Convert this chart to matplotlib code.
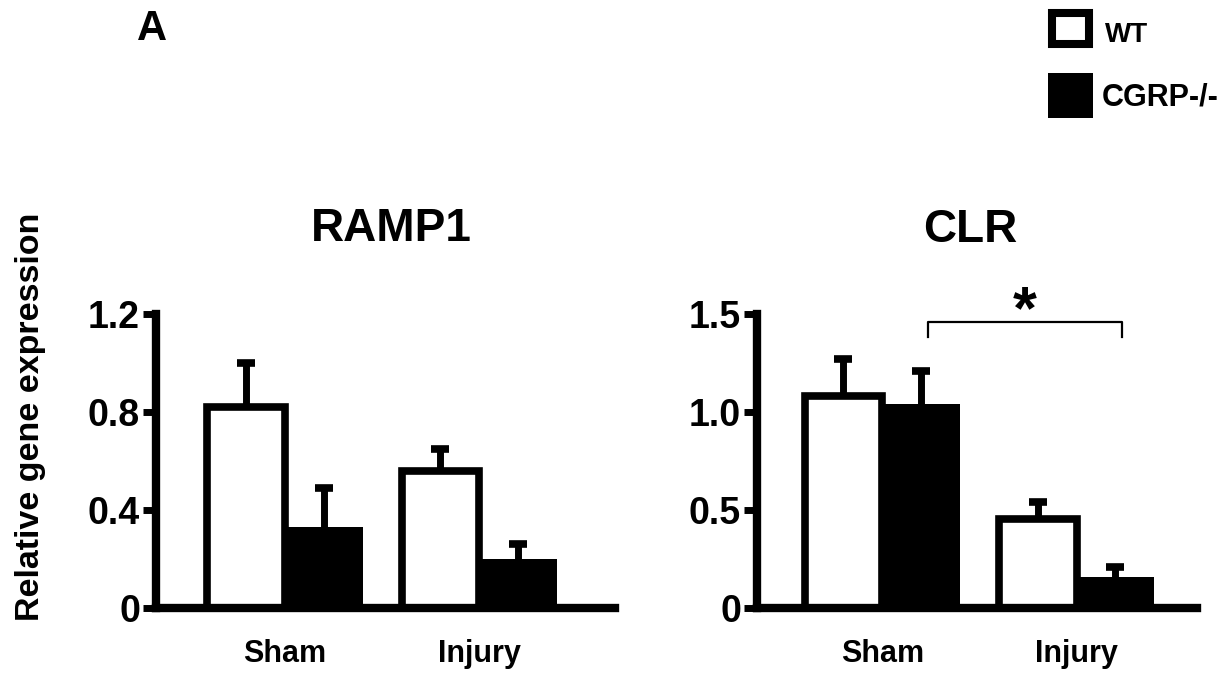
import numpy as np
import matplotlib
matplotlib.use("Agg")
import matplotlib.pyplot as plt
from matplotlib.patches import Rectangle

plt.rcParams["font.family"] = ["Liberation Sans", "DejaVu Sans"]
plt.rcParams["font.weight"] = "bold"

# data
groups = ["Sham", "Injury"]
series = ["WT", "CGRP-/-"]

ramp1_wt = [0.82, 0.56]
ramp1_wt_err = [0.18, 0.09]
ramp1_ko = [0.33, 0.20]
ramp1_ko_err = [0.16, 0.06]
ramp1_ticks = [0, 0.4, 0.8, 1.2]
ramp1_ticklabels = ["0", "0.4", "0.8", "1.2"]

clr_wt = [1.08, 0.455]
clr_wt_err = [0.19, 0.085]
clr_ko = [1.04, 0.16]
clr_ko_err = [0.17, 0.05]
clr_ticks = [0, 0.5, 1.0, 1.5]
clr_ticklabels = ["0", "0.5", "1.0", "1.5"]

W, H = 1230, 680


def fx(px):
    return px / W


def fy(py):
    return 1 - py / H


fig = plt.figure(figsize=(12.3, 6.8), dpi=100)

BAR_W = 0.4
pos = np.arange(len(groups))


def upper_errorbar(ax, x, vals, err):
    # only the upper half of the error bar, like GraphPad
    eb = ax.errorbar(x, vals, yerr=[np.zeros(len(vals)), err], fmt="none", ecolor="black",
                     elinewidth=5, capsize=6.5, capthick=5.5, zorder=1)
    for cap in eb[1]:
        if np.allclose(cap.get_ydata(), vals):
            cap.set_visible(False)


def draw_panel(ax, wt, wt_err, ko, ko_err, ticks, ticklabels, xlim):
    x_wt = pos - BAR_W / 2
    x_ko = pos + BAR_W / 2
    ax.bar(x_wt, wt, width=BAR_W, color="white", edgecolor="black", linewidth=5.5, zorder=2)
    ax.bar(x_ko, ko, width=BAR_W, color="black", edgecolor="black", linewidth=0, zorder=2)
    upper_errorbar(ax, x_wt, wt, wt_err)
    upper_errorbar(ax, x_ko, ko, ko_err)
    ax.set_ylim(ticks[0], ticks[-1])
    ax.set_xlim(*xlim)
    ax.set_yticks(ticks)
    ax.set_yticklabels(ticklabels, fontsize=27, fontweight="bold")
    ax.set_xticks(pos)
    ax.set_xticklabels(groups, fontsize=22, fontweight="bold")
    ax.tick_params(axis="y", direction="out", length=9.5, width=5, pad=2)
    ax.tick_params(axis="x", length=0, pad=22)
    for s in ["top", "right"]:
        ax.spines[s].set_visible(False)
    for s in ["left", "bottom"]:
        ax.spines[s].set_linewidth(6)
    ax.patch.set_alpha(0)
    return x_wt, x_ko


ax1 = fig.add_axes([fx(156), fy(608), fx(459), 294 / H])
draw_panel(ax1, ramp1_wt, ramp1_wt_err, ramp1_ko, ramp1_ko_err,
           ramp1_ticks, ramp1_ticklabels, (-0.665, 1.70))

ax2 = fig.add_axes([fx(757), fy(608), fx(440), 294 / H])
_, x_ko2 = draw_panel(ax2, clr_wt, clr_wt_err, clr_ko, clr_ko_err,
                      clr_ticks, clr_ticklabels, (-0.645, 1.62))

# significance bracket between CGRP-/- sham and injury
b_top, b_low = 1.46, 1.385
bx = x_ko2 + 0.035
ax2.plot([bx[0], bx[0], bx[1], bx[1]], [b_low, b_top, b_top, b_low],
         color="black", lw=1.6, clip_on=False)
ax2.text(bx.mean(), 1.43, "*", ha="center", va="baseline", fontsize=44,
         fontweight="bold", clip_on=False)

# titles and labels
fig.text(fx(391), fy(241), "RAMP1", ha="center", va="baseline", fontsize=33, fontweight="bold")
fig.text(fx(970), fy(242), "CLR", ha="center", va="baseline", fontsize=33, fontweight="bold")
fig.text(fx(31), fy(417), "Relative gene expression", rotation=90, ha="center", va="center",
         fontsize=24.5, fontweight="bold")
fig.text(fx(137), fy(40), "A", ha="left", va="baseline", fontsize=30, fontweight="bold")

# legend
fig.patches.append(Rectangle((fx(1052), fy(44)), fx(37), 31 / H, transform=fig.transFigure,
                             facecolor="white", edgecolor="black", linewidth=5.8))
fig.patches.append(Rectangle((fx(1048), fy(118)), fx(45), 45 / H, transform=fig.transFigure,
                             facecolor="black", edgecolor="black", linewidth=0))
fig.text(fx(1105), fy(42), series[0], ha="left", va="baseline", fontsize=20, fontweight="bold")
fig.text(fx(1102), fy(106), series[1], ha="left", va="baseline", fontsize=22, fontweight="bold")

fig.savefig("out.png", dpi=100)
